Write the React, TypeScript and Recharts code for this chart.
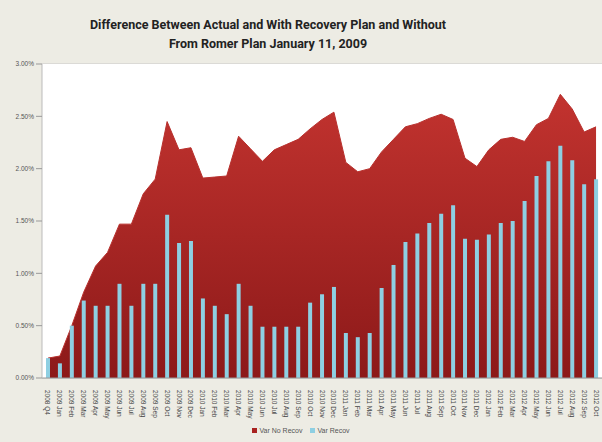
import React from 'react';
import { ComposedChart, Area, Bar, XAxis, YAxis, CartesianGrid } from 'recharts';

const months = ['Jan', 'Feb', 'Mar', 'Apr', 'May', 'Jun', 'Jul', 'Aug', 'Sep', 'Oct', 'Nov', 'Dec'];

const categories: string[] = ['2008 Q4'];
[2009, 2010, 2011, 2012].forEach((yr) => {
    months.forEach((m, i) => {
        if (yr === 2012 && i > 9) return;
        categories.push(`${yr} ${m}`);
    });
});

// percent values
const varNoRecov = [
    0.19, 0.21, 0.5, 0.82, 1.07, 1.2, 1.47, 1.47, 1.76, 1.9,
    2.45, 2.18, 2.2, 1.91, 1.92, 1.93, 2.31, 2.19, 2.07, 2.18,
    2.23, 2.28, 2.38, 2.47, 2.54, 2.06, 1.97, 2.0, 2.16, 2.28,
    2.4, 2.43, 2.48, 2.52, 2.47, 2.1, 2.02, 2.18, 2.28, 2.3,
    2.26, 2.42, 2.48, 2.71, 2.57, 2.35, 2.4,
];

const varRecov = [
    0.19, 0.14, 0.5, 0.74, 0.69, 0.69, 0.9, 0.69, 0.9, 0.9,
    1.56, 1.29, 1.31, 0.76, 0.69, 0.61, 0.9, 0.69, 0.49, 0.49,
    0.49, 0.49, 0.72, 0.8, 0.87, 0.43, 0.39, 0.43, 0.86, 1.08,
    1.3, 1.38, 1.48, 1.57, 1.65, 1.33, 1.32, 1.37, 1.48, 1.5,
    1.69, 1.93, 2.07, 2.22, 2.08, 1.85, 1.9,
];

const yTicks = [0, 0.5, 1, 1.5, 2, 2.5, 3];

const data = categories.map((name, i) => ({
    name,
    noRecov: varNoRecov[i],
    recov: varRecov[i],
}));

const AxisTick = (props: any) => {
    const { x, y, payload } = props;
    return (
        <text
            x={x}
            y={y + 4}
            transform={`rotate(90, ${x}, ${y + 4})`}
            textAnchor="start"
            dominantBaseline="central"
            fontSize={6.5}
            fill="#444"
            fontFamily="Liberation Sans, Arial, sans-serif"
        >
            {payload.value}
        </text>
    );
};

export default function App() {
    return (
        <div style={{ position: 'absolute', left: 0, top: 0, width: 602, height: 442, background: '#EDECE4', overflow: 'hidden' }}>
            <div
                style={{
                    position: 'absolute',
                    left: 68,
                    width: 400,
                    top: 15,
                    textAlign: 'center',
                    fontFamily: 'Roboto, Arial, sans-serif',
                    fontWeight: 700,
                    fontSize: 12.5,
                    lineHeight: '19px',
                    color: '#222',
                }}
            >
                Difference Between Actual and With Recovery Plan and Without
                <br />
                From Romer Plan January 11, 2009
            </div>
            <div style={{ position: 'absolute', left: 0, top: 0 }}>
                <ComposedChart
                    width={602}
                    height={442}
                    data={data}
                    margin={{ top: 64, right: 0, bottom: 24, left: 2 }}
                    barCategoryGap={0}
                >
                    <defs>
                        <linearGradient id="redFill" x1="0" y1="0" x2="0" y2="1">
                            <stop offset="0%" stopColor="#C2332F" />
                            <stop offset="100%" stopColor="#8C1919" />
                        </linearGradient>
                    </defs>
                    <rect x={42} y={64} width={560} height={314} fill="#fff" />
                    <CartesianGrid vertical={false} stroke="#C9C9C9" />
                    <XAxis
                        dataKey="name"
                        interval={0}
                        height={40}
                        tick={<AxisTick />}
                        tickLine={false}
                        axisLine={{ stroke: '#999' }}
                    />
                    <YAxis
                        domain={[0, 3]}
                        ticks={yTicks}
                        width={40}
                        tickFormatter={(v: number) => `${v.toFixed(2)}%`}
                        tick={{ fontSize: 6.5, fill: '#555', fontFamily: 'Liberation Sans, Arial, sans-serif' }}
                        axisLine={{ stroke: '#bbb' }}
                        tickLine={{ stroke: '#999' }}
                    />
                    <Area
                        type="linear"
                        dataKey="noRecov"
                        name="Var No Recov"
                        fill="url(#redFill)"
                        fillOpacity={1}
                        stroke="#B8302D"
                        strokeWidth={1}
                        isAnimationActive={false}
                    />
                    <Bar dataKey="recov" name="Var Recov" barSize={4} fill="#8ECFE2" isAnimationActive={false} />
                </ComposedChart>
            </div>
            <div
                style={{
                    position: 'absolute',
                    left: 0,
                    width: 602,
                    top: 427,
                    display: 'flex',
                    justifyContent: 'center',
                    gap: 8,
                    fontSize: 7,
                    color: '#555',
                    fontFamily: 'Liberation Sans, Arial, sans-serif',
                }}
            >
                <span style={{ display: 'flex', alignItems: 'center', gap: 2 }}>
                    <span style={{ width: 5, height: 5, background: '#A82220', display: 'inline-block' }} />
                    Var No Recov
                </span>
                <span style={{ display: 'flex', alignItems: 'center', gap: 2 }}>
                    <span style={{ width: 5, height: 5, background: '#8ECFE2', display: 'inline-block' }} />
                    Var Recov
                </span>
            </div>
        </div>
    );
}
